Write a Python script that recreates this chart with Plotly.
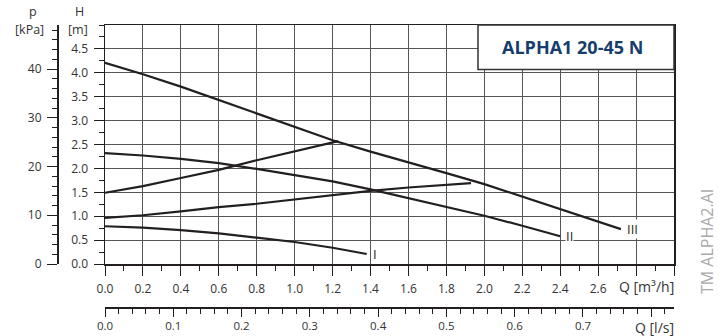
import plotly.graph_objects as go

# ---------------- data (Q in m3/h, H in m) ----------------
q_III = [0.0, 0.2, 0.4, 0.6, 0.8, 1.0, 1.2, 1.4, 1.6, 1.8, 2.0, 2.2, 2.4, 2.6, 2.72]
h_III = [4.21, 3.97, 3.71, 3.43, 3.15, 2.88, 2.59, 2.35, 2.13, 1.90, 1.67, 1.41, 1.14, 0.88, 0.73]

q_II = [0.0, 0.2, 0.4, 0.6, 0.8, 1.0, 1.2, 1.4, 1.6, 1.8, 2.0, 2.2, 2.4]
h_II = [2.32, 2.27, 2.20, 2.11, 1.99, 1.86, 1.73, 1.56, 1.38, 1.20, 1.01, 0.80, 0.58]

q_I = [0.0, 0.2, 0.4, 0.6, 0.8, 1.0, 1.2, 1.38]
h_I = [0.79, 0.76, 0.71, 0.64, 0.55, 0.46, 0.34, 0.21]

q_PP_hi = [0.0, 0.2, 0.4, 0.6, 0.8, 1.0, 1.2, 1.23]
h_PP_hi = [1.49, 1.63, 1.80, 1.97, 2.17, 2.36, 2.54, 2.57]

q_PP_lo = [0.0, 0.2, 0.4, 0.6, 0.8, 1.0, 1.2, 1.4, 1.6, 1.8, 1.93]
h_PP_lo = [0.965, 1.02, 1.10, 1.19, 1.26, 1.35, 1.44, 1.53, 1.60, 1.66, 1.69]

q_ticks = [0.0, 0.2, 0.4, 0.6, 0.8, 1.0, 1.2, 1.4, 1.6, 1.8, 2.0, 2.2, 2.4, 2.6, 2.8, 3.0]
q_ticktext = ["0.0", "0.2", "0.4", "0.6", "0.8", "1.0", "1.2", "1.4", "1.6", "1.8",
              "2.0", "2.2", "2.4", "2.6", "", ""]
h_ticks = [0.0, 0.5, 1.0, 1.5, 2.0, 2.5, 3.0, 3.5, 4.0, 4.5]
h_ticktext = ["0.0", "0.5", "1.0", "1.5", "2.0", "2.5", "3.0", "3.5", "4.0", "4.5"]
p_ticks = [0, 10, 20, 30, 40]
ls_ticks = [0.0, 0.1, 0.2, 0.3, 0.4, 0.5, 0.6, 0.7, 0.8]
ls_ticktext = ["0.0", "0.1", "0.2", "0.3", "0.4", "0.5", "0.6", "0.7", ""]

Q_MAX = 3.0
H_MAX = 5.0
KPA_PER_M = 9.81
M3H_PER_LS = 3.6

# ---------------- layout geometry (pixels) ----------------
W, HGT = 719, 336
ML, MR, MT, MB = 57, 45, 25, 29
PW = W - ML - MR
PH = HGT - MT - MB
plot_left_px = 105
plot_bottom_px = 264
dx0 = (plot_left_px - ML) / PW
dy0 = (HGT - MB - plot_bottom_px) / PH


def px(x):
    return (x - ML) / PW


def py(y):
    return (HGT - MB - y) / PH


FONT = "Open Sans"
TXT = "#333333"
LINE = "#231f20"
GRID = "#555555"

fig = go.Figure()

curves = [(q_III, h_III, "III"), (q_II, h_II, "II"), (q_I, h_I, "I"),
          (q_PP_hi, h_PP_hi, None), (q_PP_lo, h_PP_lo, None)]
for q, h, name in curves:
    fig.add_trace(go.Scatter(x=q, y=h, mode="lines",
                             line=dict(color=LINE, width=2.2),
                             hoverinfo="skip", showlegend=False,
                             xaxis="x", yaxis="y"))

# invisible companion on the secondary (l/s, kPa) axes so they are drawn
fig.add_trace(go.Scatter(x=[v / M3H_PER_LS for v in q_III],
                         y=[v * KPA_PER_M for v in h_III],
                         mode="lines", opacity=0, hoverinfo="skip",
                         showlegend=False, xaxis="x2", yaxis="y2"))

tickfont = dict(family=FONT, size=12, color=TXT)
common = dict(ticks="outside", tickwidth=1, tickcolor=LINE, showline=True,
              linecolor=LINE, linewidth=1.5, zeroline=False,
              automargin=False, fixedrange=True)

fig.update_layout(
    template="none",
    width=W, height=HGT, autosize=False,
    margin=dict(l=ML, r=MR, t=MT, b=MB, pad=0),
    paper_bgcolor="white", plot_bgcolor="white",
    font=dict(family=FONT, size=12, color=TXT),
    showlegend=False,
    xaxis=dict(domain=[dx0, 1], range=[0, Q_MAX], anchor="y",
               tickmode="array", tickvals=q_ticks, ticktext=q_ticktext,
               ticklen=10, mirror=True, tickfont=tickfont, ticklabelstandoff=3,
               showgrid=True, gridcolor=GRID, gridwidth=1,
               minor=dict(dtick=0.1, ticks="outside", ticklen=5, tickcolor=LINE,
                          showgrid=False),
               **common),
    yaxis=dict(domain=[dy0, 1], range=[0, H_MAX], anchor="x",
               tickmode="array", tickvals=h_ticks, ticktext=h_ticktext,
               ticklen=10, mirror=True, tickfont=tickfont, ticklabelstandoff=3,
               showgrid=True, gridcolor=GRID, gridwidth=1,
               minor=dict(dtick=0.25, ticks="outside", ticklen=5, tickcolor=LINE,
                          showgrid=False),
               **common),
    yaxis2=dict(domain=[dy0, 1], range=[0, H_MAX * KPA_PER_M], anchor="free",
                position=0, overlaying="y", side="left",
                tickmode="array", tickvals=p_ticks, ticklen=10,
                tickfont=tickfont, ticklabelstandoff=3, showgrid=False,
                minor=dict(dtick=2, ticks="outside", ticklen=5, tickcolor=LINE),
                **common),
    xaxis2=dict(domain=[dx0, 1], range=[0, Q_MAX / M3H_PER_LS], anchor="free",
                position=0, overlaying="x", side="bottom",
                tickmode="array", tickvals=ls_ticks, ticktext=ls_ticktext,
                ticklen=8, showgrid=False, ticklabelstandoff=0,
                tickfont=dict(family=FONT, size=11.5, color=TXT),
                minor=dict(dtick=0.02, ticks="outside", ticklen=5, tickcolor=LINE),
                **common),
)

# title box
fig.add_shape(type="rect", xref="paper", yref="paper",
              x0=px(478), x1=px(674), y0=py(69.5), y1=py(25),
              fillcolor="white", line=dict(color="#333333", width=1.5),
              layer="above")
fig.add_annotation(xref="paper", yref="paper", x=px(572), y=py(47.5),
                   xanchor="center", yanchor="middle",
                   text="<b>ALPHA1 20-45 N</b>", showarrow=False,
                   font=dict(family=FONT, size=18, color="#163d6b"))

# curve labels
for q, h, name in curves:
    if name:
        fig.add_annotation(xref="x", yref="y", x=q[-1], y=h[-1], text=name,
                           showarrow=False, xanchor="left", yanchor="middle",
                           xshift=5, bgcolor="white", borderpad=0,
                           font=dict(family=FONT, size=13, color="#231f20"))

# axis captions
caps = [("p", 33, 12), ("[kPa]", 30, 29), ("H", 79, 12), ("[m]", 78, 29)]
for t, x, y in caps:
    fig.add_annotation(xref="paper", yref="paper", x=px(x), y=py(y), text=t,
                       xanchor="center", yanchor="middle",
                       showarrow=False, font=dict(family=FONT, size=12.5, color=TXT))

fig.add_annotation(xref="paper", yref="paper", x=px(676), y=py(286),
                   text="Q [m³/h]", showarrow=False, xanchor="right", yanchor="middle",
                   font=dict(family=FONT, size=14, color=TXT))
fig.add_annotation(xref="paper", yref="paper", x=px(676), y=py(327),
                   text="Q [l/s]", showarrow=False, xanchor="right", yanchor="middle",
                   font=dict(family=FONT, size=14, color=TXT))

fig.add_annotation(xref="paper", yref="paper", x=px(707), y=py(242),
                   xanchor="center", yanchor="middle",
                   text="TM ALPHA2.AI", textangle=-90, showarrow=False,
                   font=dict(family=FONT, size=16, color="#aaaaaa"))

fig.write_html("out.html",
               config={"displayModeBar": False, "staticPlot": True},
               post_script="document.body.style.margin='0';document.body.style.overflow='hidden';")
